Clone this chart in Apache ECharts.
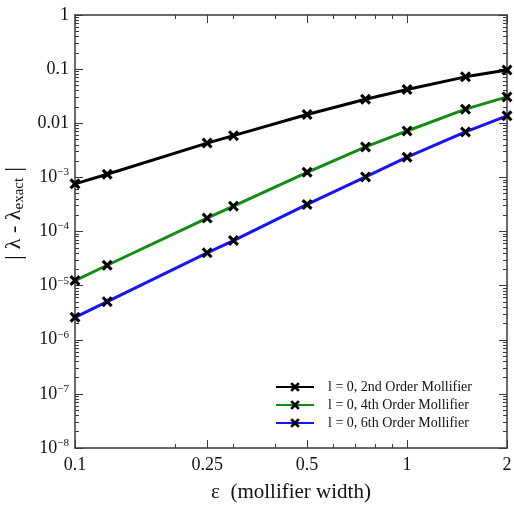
<!DOCTYPE html>
<html><head><meta charset="utf-8">
<script src="https://cdn.jsdelivr.net/npm/echarts@6/dist/echarts.min.js"></script>
<style>html,body{margin:0;padding:0;background:#fff}#c{width:514px;height:508px}</style>
</head><body><div id="c"></div>
<script>
// ---- data ----
const eps = [0.1, 0.125, 0.25, 0.3, 0.5, 0.75, 1, 1.5, 2];
const err2nd = [7.6e-4, 1.14e-3, 4.3e-3, 5.9e-3, 0.0145, 0.0278, 0.042, 0.072, 0.096];
const err4th = [1.24e-5, 2.38e-5, 1.77e-4, 2.94e-4, 1.24e-3, 3.65e-3, 7.2e-3, 0.0182, 0.0307];
const err6th = [2.6e-6, 5.06e-6, 4.03e-5, 6.8e-5, 3.16e-4, 1.02e-3, 2.36e-3, 6.9e-3, 0.0137];
const seriesNames = ['l = 0, 2nd Order Mollifier', 'l = 0, 4th Order Mollifier', 'l = 0, 6th Order Mollifier'];
const seriesColors = ['#000000', '#148c14', '#1414ff'];
// ---- axes / ticks ----
const xRange = [0.1, 2];
const yRange = [1e-8, 1];
const xMajorTicks = [0.1, 0.25, 0.5, 1, 2];
const xMinorTicks = [0.2, 0.3, 0.4, 0.6, 0.7, 0.8, 0.9];
const yMajorExps = [-8, -7, -6, -5, -4, -3, -2, -1, 0];
const yMinorMantissas = [2, 3, 4, 5, 6, 7, 8, 9];

const L = Math.log10;
const xMin = L(xRange[0]), xMax = L(xRange[1]);
const yMin = L(yRange[0]), yMax = L(yRange[1]);
const xMajLog = xMajorTicks.map(L);
const xMinLog = xMinorTicks.map(L);
const yMinLog = [];
yMajorExps.slice(0, -1).forEach(e => yMinorMantissas.forEach(m => yMinLog.push(e + L(m))));

const FONT = 'Liberation Serif';
const frameColor = '#3a3a3a';

function valAxis(kind, pos, ticks, len, opts) {
  const a = Object.assign({
    type: 'value', position: pos,
    min: kind === 'x' ? xMin : yMin, max: kind === 'x' ? xMax : yMax,
    axisLine: { show: false, onZero: false, lineStyle: { color: frameColor, width: 1.5 } },
    axisTick: { show: true, inside: true, length: len, customValues: ticks, lineStyle: { color: frameColor, width: 1 } },
    axisLabel: { show: false },
    splitLine: { show: false }
  }, opts || {});
  return a;
}

const xFmt = v => String(Math.round(Math.pow(10, v) * 1000) / 1000);
const yFmt = v => {
  const e = Math.round(v);
  if (e >= -2) return String(Math.round(Math.pow(10, e) * 100) / 100);
  return '{b|10}{s|\u2212' + (-e) + '}';
};

const xAxes = [
  { type: 'log', logBase: 10, min: xRange[0], max: xRange[1], show: false },
  valAxis('x', 'bottom', xMajLog, 8, {
    axisLine: { show: true, onZero: false, lineStyle: { color: frameColor, width: 1.5 } },
    axisLabel: { show: true, customValues: xMajLog, formatter: xFmt, margin: 8,
      fontFamily: FONT, fontSize: 18, color: '#111' },
    name: '\u03b5  (mollifier width)', nameLocation: 'middle', nameGap: 34,
    nameTextStyle: { fontFamily: FONT, fontSize: 21, color: '#111' }
  }),
  valAxis('x', 'bottom', xMinLog, 4),
  valAxis('x', 'top', xMajLog, 8, { axisLine: { show: true, onZero: false, lineStyle: { color: frameColor, width: 1.5 } } }),
  valAxis('x', 'top', xMinLog, 4)
];
const yAxes = [
  { type: 'log', logBase: 10, min: yRange[0], max: yRange[1], show: false },
  valAxis('y', 'left', yMajorExps, 8, {
    axisLine: { show: true, onZero: false, lineStyle: { color: frameColor, width: 1.5 } },
    axisLabel: { show: true, customValues: yMajorExps, formatter: yFmt, margin: 6,
      fontFamily: FONT, fontSize: 18, color: '#111',
      rich: { b: { fontFamily: FONT, fontSize: 18, color: '#111' },
              s: { fontFamily: FONT, fontSize: 11, color: '#111', verticalAlign: 'top', padding: [0, 0, 10, 0] } } },
    name: '{bar|| }{l|\u03bb - \u03bb}{sub|exact}{bar| |}', nameLocation: 'middle', nameGap: 44,
    nameTextStyle: { fontFamily: FONT, fontSize: 22, color: '#111', padding: [0, 0, 0, 36],
      rich: { bar: { fontFamily: FONT, fontSize: 24, color: '#111' },
              l: { fontFamily: FONT, fontSize: 22, color: '#111' },
              sub: { fontFamily: FONT, fontSize: 15, color: '#111', verticalAlign: 'bottom', padding: [8, 0, 0, 0] } } }
  }),
  valAxis('y', 'left', yMinLog, 4),
  valAxis('y', 'right', yMajorExps, 8, { axisLine: { show: true, onZero: false, lineStyle: { color: frameColor, width: 1.5 } } }),
  valAxis('y', 'right', yMinLog, 4)
];

const X_SYMBOL = 'path://M0,2 L2,0 L5,3 L8,0 L10,2 L7,5 L10,8 L8,10 L5,7 L2,10 L0,8 L3,5 Z';
const allErr = [err2nd, err4th, err6th];
const series = allErr.map((arr, i) => ({
  name: seriesNames[i], type: 'line', xAxisIndex: 0, yAxisIndex: 0,
  data: eps.map((x, j) => [x, arr[j]]),
  symbol: X_SYMBOL, symbolSize: 11, showAllSymbol: true,
  lineStyle: { color: seriesColors[i], width: 3 },
  itemStyle: { color: '#000' },
  emphasis: { disabled: true },
  clip: true, z: 3 + (2 - i)
}));

const chart = echarts.init(document.getElementById('c'), null, { renderer: 'canvas' });
chart.setOption({
  animation: false,
  backgroundColor: '#fff',
  grid: { left: 75, right: 7, top: 15, bottom: 60, containLabel: false, outerBoundsMode: 'none' },
  xAxis: xAxes,
  yAxis: yAxes,
  legend: {
    orient: 'vertical', left: 275, top: 380, padding: 0,
    itemWidth: 38, itemHeight: 12, itemGap: 4,
    textStyle: { fontFamily: FONT, fontSize: 14, color: '#111', lineHeight: 14, padding: [0, 0, 0, 9] },
    data: seriesNames
  },
  series: series
});
</script>
</body></html>
